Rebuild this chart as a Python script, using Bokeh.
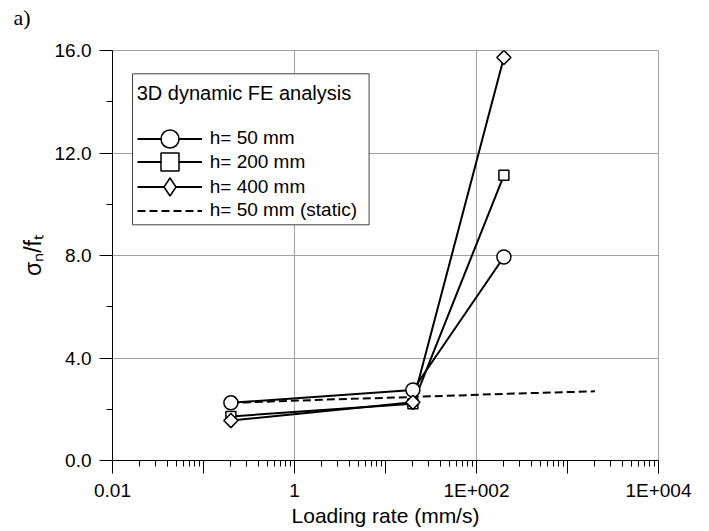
import math
from bokeh.plotting import figure
from bokeh.models import (Range1d, FixedTicker, Legend, LegendItem, Title,
                          BoxAnnotation, CustomJSTickFormatter)
from bokeh.embed import file_html
from bokeh.resources import INLINE

# ---------------- data ----------------
loading_rate = [0.2, 20, 200]
h50 = [2.25, 2.75, 7.94]
h200 = [1.72, 2.21, 11.13]
h400 = [1.56, 2.27, 15.73]
static_rate = [0.2, 2, 20, 200, 2000]
static_h50 = [2.25, 2.37, 2.48, 2.60, 2.70]

series_labels = ["h= 50 mm", "h= 200 mm", "h= 400 mm", "h= 50 mm (static)"]
legend_title = "3D dynamic FE analysis"
x_title = "Loading rate (mm/s)"
y_title = "\u03c3\u2099/f\u209c"
panel_tag = "a)"

x_major = [0.01, 0.1, 1, 10, 100, 1000, 10000]
x_tick_labels = ["0.01", "", "1", "", "1E+002", "", "1E+004"]
x_grid = [0.01, 1, 100, 10000]
x_minor = [m * 10.0 ** e for e in range(-2, 4) for m in range(2, 10)]
y_major = [0, 4, 8, 12, 16]
y_tick_labels = ["0.0", "4.0", "8.0", "12.0", "16.0"]
y_minor = [2, 6, 10, 14]

FONT = "Liberation Sans"
GRID = "#a0a0a0"

p = figure(width=709, height=531, x_axis_type="log",
           x_range=Range1d(0.01, 10000), y_range=Range1d(0, 16),
           output_backend="svg", toolbar_location=None,
           min_border_left=112, min_border_right=51,
           min_border_top=50, min_border_bottom=71)
p.background_fill_color = "white"
p.border_fill_color = "white"
p.outline_line_color = GRID
p.outline_line_width = 1

# panel tag "a)" as the title, with a small spacer title between it and the frame
p.title.text = panel_tag
p.title.align = "left"
p.title.offset = -99
p.title.standoff = 0
p.title.text_font = "Liberation Serif"
p.title.text_font_size = "22px"
p.title.text_font_style = "normal"
p.title.text_color = "black"
p.add_layout(Title(text=" ", text_font_size="10px", standoff=8), "above")

# axes
p.xaxis.ticker = FixedTicker(ticks=x_major, minor_ticks=x_minor)
p.yaxis.ticker = FixedTicker(ticks=y_major, minor_ticks=y_minor)
p.xaxis.formatter = CustomJSTickFormatter(args=dict(tv=x_major, labs=x_tick_labels), code="""
for (let i = 0; i < tv.length; i++) { if (Math.abs(tick / tv[i] - 1) < 1e-6) return labs[i]; }
return "";
""")
p.yaxis.formatter = CustomJSTickFormatter(args=dict(tv=y_major, labs=y_tick_labels), code="""
for (let i = 0; i < tv.length; i++) { if (Math.abs(tick - tv[i]) < 1e-6) return labs[i]; }
return "";
""")
for ax in (p.xaxis, p.yaxis):
    ax.axis_line_color = "black"
    ax.axis_line_width = 1
    ax.major_tick_line_color = "black"
    ax.minor_tick_line_color = "black"
    ax.major_tick_in = 0
    ax.major_tick_out = 13
    ax.minor_tick_in = 0
    ax.minor_tick_out = 6
    ax.major_label_text_font = FONT
    ax.major_label_text_font_size = "19px"
    ax.major_label_text_color = "black"
    ax.axis_label_text_font = FONT
    ax.axis_label_text_font_style = "normal"
    ax.axis_label_text_color = "black"
p.yaxis.major_label_standoff = 8
p.xaxis.major_label_standoff = 6
p.xaxis.axis_label = x_title
p.xaxis.axis_label_text_font_size = "21px"
p.xaxis.axis_label_standoff = 0
p.yaxis.axis_label = y_title
p.yaxis.axis_label_text_font_size = "23px"
p.yaxis.axis_label_standoff = 6

p.xgrid.ticker = FixedTicker(ticks=x_grid)
p.xgrid.grid_line_color = GRID
p.ygrid.grid_line_color = GRID
p.xgrid.grid_line_width = 1
p.ygrid.grid_line_width = 1

# ---------------- data marks ----------------
r_static = p.line(static_rate, static_h50, line_color="black", line_width=2, line_dash="8 4")
r_l50 = p.line(loading_rate, h50, line_color="black", line_width=2)
r_l200 = p.line(loading_rate, h200, line_color="black", line_width=2)
r_l400 = p.line(loading_rate, h400, line_color="black", line_width=2)
mk = dict(fill_color="white", line_color="black", line_width=1.5)
r_m50 = p.scatter(loading_rate, h50, marker="circle", size=14, **mk)
r_m200 = p.scatter(loading_rate, h200, marker="square", size=10, **mk)
# diamond key used by the legend; it lies fully under the rotated squares below
r_key400 = p.scatter(loading_rate, h400, marker="diamond", size=10, **mk)
r_m400 = p.scatter(loading_rate, h400, marker="square", size=10, angle=math.pi / 4, **mk)

# ---------------- legend ----------------
box = BoxAnnotation(left=20, right=256.6, bottom=235.7, top=386.7,
                    left_units="screen", right_units="screen",
                    top_units="screen", bottom_units="screen",
                    fill_color="white", fill_alpha=1.0,
                    line_color="#404040", line_width=1, line_alpha=1.0)
p.add_layout(box)

legend_rows = [
    (series_labels[0], [r_l50, r_m50], 299.2),
    (series_labels[1], [r_l200, r_m200], 275.8),
    (series_labels[2], [r_l400, r_key400], 250.8),
    (series_labels[3], [r_static], 227.5),
]
common = dict(orientation="vertical", glyph_width=65, glyph_height=45,
              label_height=45, spacing=0, padding=0, margin=0,
              label_standoff=8, border_line_alpha=0, background_fill_alpha=0,
              label_text_font=FONT, label_text_font_size="19px",
              label_text_color="black")
for i, (lab, rends, ybot) in enumerate(legend_rows):
    kw = dict(common)
    if i == 0:
        kw.update(title=legend_title, title_standoff=11, title_text_font=FONT,
                  title_text_font_size="20px", title_text_font_style="normal",
                  title_text_color="black")
    lg = Legend(items=[LegendItem(label=lab, renderers=rends)],
                location=(24.7, ybot), **kw)
    p.add_layout(lg)

open("out.html", "w").write(file_html(p, INLINE))
